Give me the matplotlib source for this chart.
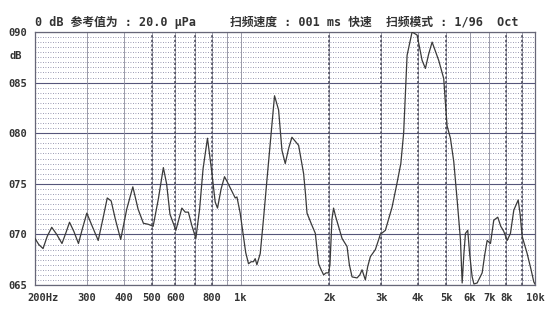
import numpy as np
import matplotlib
matplotlib.use('Agg')
import matplotlib.pyplot as plt
from matplotlib.ticker import MultipleLocator, NullLocator
import matplotlib.transforms as mtransforms

# frequency response (Hz, dB)
freq = [200, 206, 213, 220, 228, 237, 247, 255, 262, 271, 281, 290, 300, 313, 328,
        340, 352, 363, 375, 391, 410, 430, 448, 467, 485, 504, 525, 546, 560, 575,
        602, 631, 648, 664, 682, 704, 725, 745, 771, 795, 819, 834, 858, 881, 900,
        921, 958, 971, 996, 1022, 1040, 1063, 1085, 1105, 1120, 1135, 1165, 1195,
        1228, 1265, 1303, 1345, 1381, 1417, 1455, 1493, 1573, 1636, 1660, 1680,
        1740, 1793, 1839, 1870, 1913, 1950, 1989, 2010, 2042, 2068, 2100, 2150,
        2210, 2298, 2340, 2390, 2485, 2540, 2584, 2652, 2700, 2758, 2868, 2982,
        3101, 3269, 3399, 3500, 3578, 3676, 3822, 3975, 4134, 4242, 4350, 4471,
        4600, 4707, 4896, 4960, 5028, 5160, 5296, 5438, 5580, 5656, 5730, 5804,
        5908, 6000, 6116, 6200, 6360, 6614, 6750, 6878, 7058, 7242, 7472, 7650,
        7832, 8042, 8252, 8472, 8768, 8900, 9046, 9406, 9700, 9908, 10000]
level = [69.6, 69.0, 68.6, 69.8, 70.7, 70.0, 69.1, 70.2, 71.2, 70.3, 69.1, 70.6, 72.1, 70.8, 69.4,
         71.5, 73.6, 73.3, 71.5, 69.5, 72.5, 74.7, 72.5, 71.1, 71.0, 70.8, 73.5, 76.6, 75.0, 72.0,
         70.4, 72.6, 72.2, 72.2, 70.9, 69.6, 72.5, 76.5, 79.5, 76.5, 73.2, 72.6, 74.5, 75.7, 75.2,
         74.6, 73.6, 73.7, 72.1, 69.8, 68.2, 67.1, 67.3, 67.3, 67.6, 67.0, 68.1, 71.5,
         75.4, 79.5, 83.7, 82.3, 78.3, 77.0, 78.5, 79.6, 78.8, 76.0, 74.0, 72.1,
         71.0, 70.1, 67.1, 66.6, 66.0, 66.2, 66.2, 67.0, 71.5, 72.6, 71.8, 70.8,
         69.6, 68.8, 67.0, 65.8, 65.7, 66.0, 66.5, 65.5, 66.8, 67.8, 68.5, 70.0,
         70.4, 72.7, 75.1, 77.0, 80.0, 87.7, 90.0, 89.7, 87.2, 86.4, 87.8, 89.0,
         88.0, 87.2, 85.4, 83.0, 80.7, 79.5, 77.2, 73.4, 69.5, 65.2, 68.0, 70.1,
         70.4, 68.0, 65.8, 65.1, 65.2, 66.2, 68.0, 69.4, 69.1, 71.4, 71.7, 70.8,
         70.3, 69.4, 70.1, 72.4, 73.4, 72.0, 69.8, 68.1, 66.5, 65.3, 65.1]

xticks = [200, 300, 400, 500, 600, 800, 1000, 2000, 3000, 4000, 5000, 6000, 7000, 8000, 10000]
xlabels = ['200Hz', '300', '400', '500', '600', '800', '1k', '2k', '3k', '4k', '5k',
           '6k', '7k', '8k', '10k']
yticks = [65, 70, 75, 80, 85, 90]
ylabels = ['065', '070', '075', '080', '085', '090']

solid_v = [300, 400, 900, 1000, 6000, 7000]
dashed_v = [500, 600, 700, 800, 2000, 3000, 4000, 5000, 8000, 9000]

fam = ['DejaVu Sans Mono', 'Noto Sans CJK SC']
plt.rcParams['font.family'] = fam

fig = plt.figure(figsize=(5.5, 3.18), dpi=100)
ax = fig.add_axes([35 / 550, 1 - 285 / 318, 500 / 550, 253 / 318])

ax.set_xscale('log')
ax.set_xlim(200, 10000)
ax.set_ylim(65, 90)

ax.xaxis.set_minor_locator(NullLocator())
ax.set_xticks(xticks)
ax.set_xticklabels(xlabels, fontsize=7.5, fontweight='bold', color='#333333')
ax.set_yticks(yticks)
ax.set_yticklabels(ylabels, fontsize=7.5, fontweight='bold', color='#333333')
ax.yaxis.set_minor_locator(MultipleLocator(0.5))
ax.tick_params(which='both', length=0)
ax.tick_params(axis='x', pad=6)
ax.tick_params(axis='y', pad=6)

# nudge the first x label like the original printout
lab = ax.get_xticklabels()[0]
lab.set_transform(lab.get_transform() + mtransforms.ScaledTranslation(8 / 100, 0, fig.dpi_scale_trans))

ax.grid(axis='y', which='minor', color='#7a7a9a', linestyle=(0, (1, 2)), linewidth=0.6)
ax.grid(axis='y', which='major', color='#55557a', linestyle='-', linewidth=0.8)
for f in solid_v + dashed_v:
    ax.axvline(f, color='#8a8a9a', linewidth=0.6)
for f in dashed_v:
    ax.axvline(f, color='#444455', linewidth=1.1, linestyle=(0, (1.5, 1.5)))

for s in ax.spines.values():
    s.set_color('#666677')
    s.set_linewidth(0.9)

ax.plot(freq, level, color='#3a3a3a', linewidth=0.9, zorder=5)

fig.text(10 / 550, 1 - 56 / 318, 'dB', fontsize=7.5, fontweight='bold', color='#333333',
         va='center')
fig.text(35 / 550, 1 - 22 / 318, '0 dB 参考值为 : 20.0 μPa', fontsize=8.5,
         fontweight='bold', color='#333333', va='center')
fig.text(230 / 550, 1 - 22 / 318, '扫频速度 : 001 ms 快速  扫频模式 : 1/96  Oct', fontsize=8.5,
         fontweight='bold', color='#333333', va='center')

fig.savefig('out.png', dpi=100)
